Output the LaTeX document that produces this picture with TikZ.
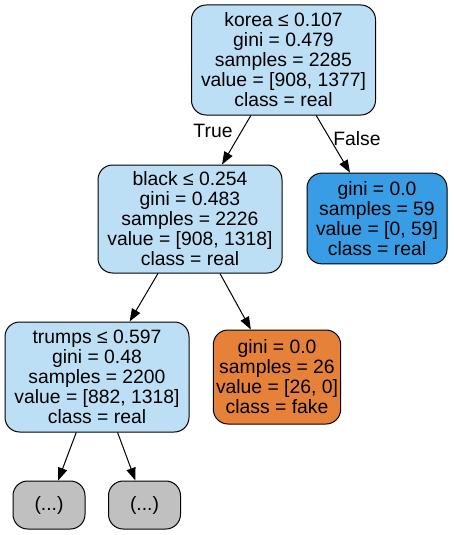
\documentclass[tikz,border=0pt]{standalone}
\usepackage{fontspec}
\setmainfont{Liberation Sans}
\usetikzlibrary{arrows.meta}
\definecolor{lightreal}{HTML}{BDDFF6}
\definecolor{fullreal}{HTML}{399DE5}
\definecolor{fullfake}{HTML}{E58139}
\definecolor{cutnode}{HTML}{C0C0C0}
\tikzset{
  treenode/.style={draw=black, rounded corners=11pt, align=center, inner sep=2pt,
    font=\fontsize{14.5pt}{15pt}\selectfont, line width=0.75pt},
  edge/.style={-{Triangle[length=9.5pt,width=7pt]}, line width=0.75pt},
  edgelabel/.style={font=\fontsize{14.5pt}{15pt}\selectfont}
}
\begin{document}
\begin{tikzpicture}[x=0.75pt,y=-0.75pt]
					\useasboundingbox (0,0) rectangle (453,535);
					\node[treenode, fill=lightreal, minimum width=138pt, minimum height=82.5pt] (korea) at (283.5,60)
					  {korea ≤ 0.107\\gini = 0.479\\samples = 2285\\value = [908, 1377]\\class = real};
					\node[treenode, fill=lightreal, minimum width=138pt, minimum height=81pt] (black) at (190,219)
					  {black ≤ 0.254\\gini = 0.483\\samples = 2226\\value = [908, 1318]\\class = real};
					\node[treenode, fill=fullreal, minimum width=105pt, minimum height=68pt] (leafreal) at (377,218.5)
					  {gini = 0.0\\samples = 59\\value = [0, 59]\\class = real};
					\node[treenode, fill=lightreal, minimum width=138pt, minimum height=82.5pt] (trumps) at (97,377)
					  {trumps ≤ 0.597\\gini = 0.48\\samples = 2200\\value = [882, 1318]\\class = real};
					\node[treenode, fill=fullfake, minimum width=94.5pt, minimum height=70.5pt] (leaffake) at (277,377)
					  {gini = 0.0\\samples = 26\\value = [26, 0]\\class = fake};
					\node[treenode, fill=cutnode, minimum width=54pt, minimum height=36pt] (cutleft) at (49,505) {(...)};
					\node[treenode, fill=cutnode, minimum width=54pt, minimum height=36pt] (cutright) at (144.5,505) {(...)};
%					edges
					\draw[edge] (korea) -- (black);
					\draw[edge] (korea) -- (leafreal);
					\draw[edge] (black) -- (trumps);
					\draw[edge] (black) -- (leaffake);
					\draw[edge] (trumps) -- (cutleft);
					\draw[edge] (trumps) -- (cutright);
					\node[edgelabel] (truelabel) at (213,131) {True};
					\node[edgelabel] (falselabel) at (357,139) {False};
				\end{tikzpicture}
\end{document}
